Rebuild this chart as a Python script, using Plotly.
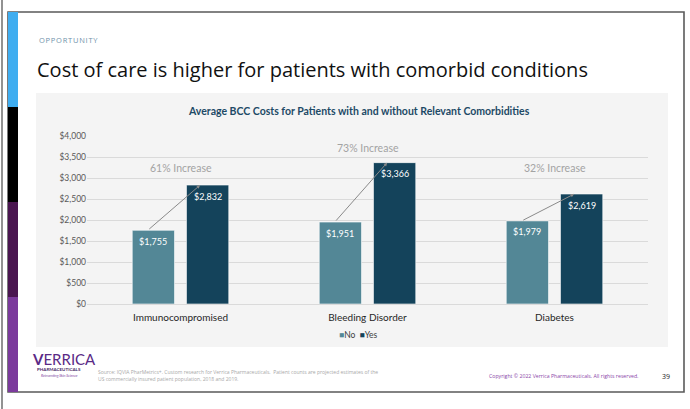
import plotly.graph_objects as go

# ---- data ----
categories = ["Immunocompromised", "Bleeding Disorder", "Diabetes"]
no_values = [1755, 1951, 1979]
yes_values = [2832, 3366, 2619]
series_names = ["No", "Yes"]
y_ticks = [0, 500, 1000, 1500, 2000, 2500, 3000, 3500, 4000]
y_tick_labels = [f"${v:,}" for v in y_ticks]

W, H = 690, 409
L, R, T, B = 87, 42, 136, 105
PW = W - L - R
PH = H - T - B


def fx(x):
    return (x - L) / PW


def fy(y):
    return (H - B - y) / PH


NO_COLOR = "#538796"
YES_COLOR = "#14435b"
CHART_FONT = "Lato"
BARGAP = 0.42
BARGROUPGAP = 0.22
half = (1 - BARGAP) / 4  # offset of each bar centre from the category centre

fig = go.Figure()
for name, vals, col in [(series_names[0], no_values, NO_COLOR), (series_names[1], yes_values, YES_COLOR)]:
    fig.add_trace(go.Bar(
        x=categories, y=vals, name=name,
        marker=dict(color=col, line=dict(color="#ffffff", width=0.6)),
        hoverinfo="skip", showlegend=False,
    ))

shapes = []
# outer page edge line
shapes.append(dict(type="line", xref="paper", yref="paper",
                   x0=fx(2), x1=fx(2), y0=fy(0), y1=fy(409),
                   line=dict(color="#6e6e6e", width=1.5), layer="below"))
# slide frame
shapes.append(dict(type="rect", xref="paper", yref="paper",
                   x0=fx(8), x1=fx(684), y0=fy(12), y1=fy(392),
                   line=dict(color="#5a5a5a", width=1.6), fillcolor="white", layer="below"))
# left colour band
bands = [(12, 107, "#3fadf0"), (107, 202, "#000000"), (202, 297, "#4a1650"), (297, 392, "#7b3a9c")]
for y0, y1, c in bands:
    shapes.append(dict(type="rect", xref="paper", yref="paper",
                       x0=fx(8), x1=fx(18), y0=fy(y0), y1=fy(y1),
                       line=dict(width=0), fillcolor=c, layer="below"))
# grey chart panel
shapes.append(dict(type="rect", xref="paper", yref="paper",
                   x0=fx(36), x1=fx(668), y0=fy(93), y1=fy(347),
                   line=dict(width=0), fillcolor="#f4f4f4", layer="below"))

annotations = []
annotations.append(dict(text="O P P O R T U N I T Y".replace(" ", "\u200a"), xref="paper", yref="paper",
                        x=fx(37), y=fy(40), xanchor="left", yanchor="middle", showarrow=False,
                        font=dict(family="Open Sans", size=7.5, color="#6f92ab")))
annotations.append(dict(text="Cost of care is higher for patients with comorbid conditions",
                        xref="paper", yref="paper", x=fx(35), y=fy(69), xanchor="left", yanchor="middle",
                        showarrow=False, font=dict(family="Open Sans", size=20, color="#111111")))
annotations.append(dict(text="<b>Average BCC Costs for Patients with and without Relevant Comorbidities</b>",
                        xref="paper", yref="paper", x=fx(359), y=fy(111), xanchor="center", yanchor="middle",
                        showarrow=False, font=dict(family=CHART_FONT, size=10.5, color="#1d4a66")))

# value labels inside bars
for i in range(len(categories)):
    for off, vals in [(-half, no_values), (half, yes_values)]:
        annotations.append(dict(x=i + off, y=vals[i], xref="x", yref="y", text=f"${vals[i]:,}",
                                showarrow=False, xanchor="center", yanchor="middle", yshift=-11,
                                font=dict(family=CHART_FONT, size=9, color="white")))

# increase arrows and labels
label_y = [3250, 3720, 3250]
for i in range(len(categories)):
    pct = round((yes_values[i] / no_values[i] - 1) * 100)
    annotations.append(dict(x=i + half - 0.04, y=yes_values[i], ax=i - half - 0.03, ay=no_values[i],
                            xref="x", yref="y", axref="x", ayref="y", text="", showarrow=True,
                            arrowhead=2, arrowsize=0.7, arrowwidth=1, arrowcolor="#8a8a8a",
                            standoff=0, startstandoff=0))
    annotations.append(dict(x=i, y=label_y[i], xref="x", yref="y", text=f"{pct}% Increase",
                            showarrow=False, xanchor="center", yanchor="middle",
                            font=dict(family=CHART_FONT, size=10.5, color="#a3a3a3")))

# legend (compact, as in the reference)
legend_text = (f"<span style='color:{NO_COLOR}'>■</span>{series_names[0]}\u2002"
               f"<span style='color:{YES_COLOR}'>■</span>{series_names[1]}")
annotations.append(dict(text=legend_text, xref="paper", yref="paper", x=fx(358), y=fy(335),
                        xanchor="center", yanchor="middle", showarrow=False,
                        font=dict(family=CHART_FONT, size=8.5, color="#404040")))

# logo
annotations.append(dict(text="<b>V</b>ERRICA", xref="paper", yref="paper", x=fx(30), y=fy(359),
                        xanchor="left", yanchor="middle", showarrow=False,
                        font=dict(family="Lato", size=15, color="#5a2a86")))
annotations.append(dict(text="<b>PHARMACEUTICALS</b>", xref="paper", yref="paper", x=fx(59), y=fy(369.5),
                        xanchor="center", yanchor="middle", showarrow=False,
                        font=dict(family="Lato", size=4.5, color="#4a2a6a")))
annotations.append(dict(text="<i>Reinventing Skin Science</i>", xref="paper", yref="paper", x=fx(59), y=fy(375),
                        xanchor="center", yanchor="middle", showarrow=False,
                        font=dict(family="Lato", size=3.6, color="#7b3a9c")))
# footer
annotations.append(dict(text="Source: IQVIA PharMetrics+. Custom research for Verrica Pharmaceuticals.  Patient counts are projected estimates of the<br>US commercially insured patient population, 2018 and 2019.",
                        xref="paper", yref="paper", x=fx(96), y=fy(375.5), xanchor="left", yanchor="middle",
                        align="left", showarrow=False,
                        font=dict(family="Open Sans", size=5, color="#a8a8a8")))
annotations.append(dict(text="Copyright © 2022 Verrica Pharmaceuticals. All rights reserved.",
                        xref="paper", yref="paper", x=fx(640), y=fy(376), xanchor="right", yanchor="middle",
                        showarrow=False, font=dict(family="Open Sans", size=5.2, color="#8a45a8")))
annotations.append(dict(text="39", xref="paper", yref="paper", x=fx(666), y=fy(376), xanchor="center",
                        yanchor="middle", showarrow=False,
                        font=dict(family="Open Sans", size=7, color="#222222")))

fig.update_layout(
    width=W, height=H,
    margin=dict(l=L, r=R, t=T, b=B),
    paper_bgcolor="white", plot_bgcolor="rgba(0,0,0,0)",
    barmode="group", bargap=BARGAP, bargroupgap=BARGROUPGAP,
    showlegend=False,
    xaxis=dict(type="category", showgrid=False, showline=False, zeroline=False, ticks="",
               ticklabelstandoff=6,
               tickfont=dict(family=CHART_FONT, size=10, color="#262626")),
    yaxis=dict(range=[0, 4000], tickvals=y_ticks, ticktext=y_tick_labels,
               showgrid=True, gridcolor="#dadada", gridwidth=1, zeroline=True, zerolinecolor="#dadada",
               zerolinewidth=1, showline=False, ticks="",
               tickfont=dict(family=CHART_FONT, size=8.5, color="#595959")),
    shapes=shapes, annotations=annotations,
)

fig.write_html("out.html", config={"displayModeBar": False},
               post_script="document.body.style.margin='0';document.body.style.padding='0';"
                           "document.documentElement.style.overflow='hidden';")
